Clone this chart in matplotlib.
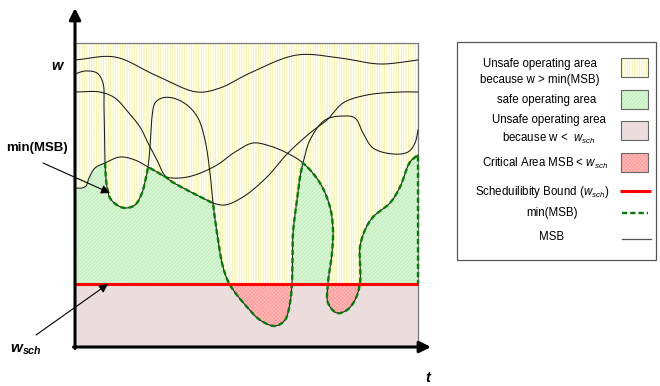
import numpy as np
import matplotlib
matplotlib.use("Agg")
import matplotlib.pyplot as plt
from matplotlib.patches import Polygon, Rectangle

plt.rcParams.update({
    "font.family": ["Liberation Sans", "DejaVu Sans"],
    "mathtext.fontset": "custom",
    "mathtext.rm": "Liberation Sans",
    "mathtext.it": "Liberation Sans:italic",
    "mathtext.bf": "Liberation Sans:bold:italic",
    "hatch.linewidth": 0.5,
})

# ---- operating-space model (t: time, w: workload, arbitrary units) ----
T_MAX, W_MAX = 343, 304
W_SCH = 63                       # schedulability bound

# four MSB trajectories (knot points)
msb_a_t = [0, 40, 80, 122, 145, 175, 222, 265, 305, 343]
msb_a_w = [287, 290, 272, 255, 259, 274, 292, 289, 283, 287]

msb_b_t = [0, 10, 22, 28, 29, 29.5, 30, 32, 35, 42, 50, 60, 67, 70, 73, 75, 77, 80, 87, 98,
           112, 123, 130, 135, 138, 142, 148, 155, 172, 185, 200, 210, 215, 217, 218, 222,
           225, 228, 235, 250, 268, 280, 288, 298, 318, 333, 340, 343]
msb_b_w = [273, 276, 274, 264, 240, 212, 184, 160, 149, 142, 139, 142, 154, 165, 180, 200,
           230, 244, 249, 249, 242, 229, 207, 174, 144, 114, 80, 62, 40, 27, 21, 27, 44, 64,
           114, 147, 170, 184, 207, 227, 231, 229, 214, 199, 193, 195, 204, 217]

msb_c_t = [0, 25, 40, 53, 65, 73, 82, 91, 112, 128, 138, 150, 168, 192, 212, 235, 252, 268,
           292, 325, 343]
msb_c_w = [255, 255, 249, 235, 220, 204, 187, 170, 157, 149, 144, 142, 150, 170, 193, 214,
           227, 244, 252, 255, 255]

msb_e_t = [0, 7, 11, 14, 20, 30, 45, 60, 73, 82, 91, 105, 120, 142, 160, 178, 195, 212, 228,
           245, 255, 258, 257, 253, 253, 262, 272, 280, 285, 285, 290, 298, 315, 325, 335, 343]
msb_e_w = [159, 159, 161, 169, 179, 184, 190, 187, 180, 175, 170, 169, 172, 182, 195, 204,
           201, 194, 184, 164, 140, 117, 94, 64, 44, 34, 37, 47, 64, 100, 117, 130, 144, 160,
           185, 192]

# crossings where the lower envelope switches trajectory
cross_1 = (30, 184)
cross_2 = (73, 180)
cross_3 = (91, 170)
cross_4 = (138, 144)
cross_5 = (228, 184)

legend_labels = [
    "Unsafe operating area\nbecause w > min(MSB)",
    "safe operating area",
    "Unsafe operating area\nbecause w <  $w_{sch}$",
    "Critical Area MSB < $w_{sch}$",
    "Scheduilibity Bound ($w_{sch}$)",
    "min(MSB)",
    "MSB",
]

# ---- colours ----
YELLOW_BG, YELLOW_HATCH = "#fffff0", "#f1eca0"
GREEN_BG, GREEN_HATCH = "#d8f7d4", "#b6e8b1"
PINK_BG = "#ebdddd"
RED_BG, RED_HATCH = "#ffbcbc", "#ff9a9a"
DASH_GREEN = "#087a08"

N_SUB = 24


def spline(ts, ws, n=N_SUB):
    """Centripetal Catmull-Rom curve through the knots."""
    P = np.column_stack([ts, ws]).astype(float)
    Q = np.vstack([2 * P[0] - P[1], P, 2 * P[-1] - P[-2]])
    out = []
    for i in range(1, len(Q) - 2):
        p0, p1, p2, p3 = Q[i - 1], Q[i], Q[i + 1], Q[i + 2]
        d01 = max(np.hypot(*(p1 - p0)), 1e-6) ** 0.5
        d12 = max(np.hypot(*(p2 - p1)), 1e-6) ** 0.5
        d23 = max(np.hypot(*(p3 - p2)), 1e-6) ** 0.5
        t0, t1 = 0.0, d01
        t2 = t1 + d12
        t3 = t2 + d23
        u = np.linspace(t1, t2, n, endpoint=False)[:, None]
        a1 = (t1 - u) / (t1 - t0) * p0 + (u - t0) / (t1 - t0) * p1
        a2 = (t2 - u) / (t2 - t1) * p1 + (u - t1) / (t2 - t1) * p2
        a3 = (t3 - u) / (t3 - t2) * p2 + (u - t2) / (t3 - t2) * p3
        b1 = (t2 - u) / (t2 - t0) * a1 + (u - t0) / (t2 - t0) * a2
        b2 = (t3 - u) / (t3 - t1) * a2 + (u - t1) / (t3 - t1) * a3
        out.append((t2 - u) / (t2 - t1) * b1 + (u - t1) / (t2 - t1) * b2)
    out.append(P[-1:])
    return np.vstack(out)


def knot(ts, ws, pt):
    return next(i for i, (a, b) in enumerate(zip(ts, ws)) if (a, b) == pt) * N_SUB


curves = {
    "a": (msb_a_t, msb_a_w),
    "b": (msb_b_t, msb_b_w),
    "c": (msb_c_t, msb_c_w),
    "e": (msb_e_t, msb_e_w),
}
dense = {k: spline(*v) for k, v in curves.items()}


def piece(key, p, q=None):
    ts, ws = curves[key]
    i = knot(ts, ws, p)
    j = len(dense[key]) - 1 if q is None else knot(ts, ws, q)
    return dense[key][i:j + 1]


min_path = np.vstack([
    piece("b", cross_1, cross_2),
    piece("e", cross_2, cross_3),
    piece("c", cross_3, cross_4),
    piece("b", cross_4, cross_5),
    piece("e", cross_5),
])
min_line = np.vstack([min_path, [[T_MAX, W_SCH]]])

under_min = np.vstack([
    [[0, 0], [0, msb_e_w[0]]],
    dense["e"][:knot(msb_e_t, msb_e_w, cross_1)],
    min_path,
    [[T_MAX, 0]],
])

# ---- figure ----
fig = plt.figure(figsize=(6.6, 3.86), dpi=100)
ax = fig.add_axes([0, 0, 1, 1])
ax.set_xlim(-75, 585)
ax.set_ylim(-39, 347)
ax.axis("off")

ax.add_patch(Rectangle((0, 0), T_MAX, W_MAX, facecolor=YELLOW_BG, edgecolor=YELLOW_HATCH,
                       hatch="|" * 7, lw=0, zorder=1))

upper = Rectangle((0, W_SCH), T_MAX, W_MAX - W_SCH, transform=ax.transData)
lower = Rectangle((0, 0), T_MAX, W_SCH, transform=ax.transData)

safe = Polygon(under_min, closed=True, facecolor=GREEN_BG, edgecolor=GREEN_HATCH,
               hatch="/" * 9, lw=0, zorder=2)
ax.add_patch(safe)
safe.set_clip_path(upper)

ax.add_patch(Rectangle((0, 0), T_MAX, W_SCH, facecolor=RED_BG, edgecolor=RED_HATCH,
                       hatch="x" * 9, lw=0, zorder=3))
below = Polygon(under_min, closed=True, facecolor=PINK_BG, lw=0, zorder=4)
ax.add_patch(below)
below.set_clip_path(lower)

# box outline (top / right)
ax.plot([0, T_MAX, T_MAX], [W_MAX, W_MAX, 0], color="#7a7a7a", lw=0.9, zorder=5)

for key in curves:
    d = dense[key]
    ax.plot(d[:, 0], d[:, 1], color="#1a1a1a", lw=0.75, zorder=6)

ax.plot(min_line[:, 0], min_line[:, 1], color=DASH_GREEN, lw=1.7, dashes=(2.2, 1.3),
        zorder=7)
ax.plot([0, T_MAX], [W_SCH, W_SCH], color="#ff0000", lw=2.2, zorder=8,
        solid_capstyle="butt")

# axes arrows
ax.annotate("", xy=(0, 339), xytext=(0, -1.5),
            arrowprops=dict(arrowstyle="-|>", lw=2.2, color="black", mutation_scale=17,
                            shrinkA=0, shrinkB=0), zorder=9)
ax.annotate("", xy=(356, 0), xytext=(-1.5, 0),
            arrowprops=dict(arrowstyle="-|>", lw=2.2, color="black", mutation_scale=17,
                            shrinkA=0, shrinkB=0), zorder=9)

# annotations
ax.text(-18, 281, "w", fontsize=10.5, fontweight="bold", fontstyle="italic",
        ha="center", va="center")
ax.text(353, -31, "t", fontsize=10.5, fontweight="bold", fontstyle="italic",
        ha="center", va="center")
ax.text(-38, 199, "min(MSB)", fontsize=9.5, fontweight="bold", ha="center", va="center")
ax.text(-65, -3, r"$\mathbf{w}_{\mathbf{sch}}$", fontsize=11, ha="left", va="center")
ax.annotate("", xy=(35, 154), xytext=(-32, 184),
            arrowprops=dict(arrowstyle="-|>", lw=0.8, color="black", mutation_scale=13,
                            shrinkA=0, shrinkB=0), zorder=9)
ax.annotate("", xy=(33, 63), xytext=(-39, 12),
            arrowprops=dict(arrowstyle="-|>", lw=0.8, color="black", mutation_scale=13,
                            shrinkA=0, shrinkB=0), zorder=9)

# ---- legend ----
ax.add_patch(Rectangle((382, 87), 199, 218, facecolor="white", edgecolor="#555555",
                       lw=0.9, zorder=10))

swatches = [
    (270, YELLOW_BG, YELLOW_HATCH, "|" * 7),
    (238, GREEN_BG, GREEN_HATCH, "/" * 9),
    (207, PINK_BG, PINK_BG, None),
    (175, RED_BG, RED_HATCH, "x" * 9),
]
for y0, fc, hc, hatch in swatches:
    ax.add_patch(Rectangle((546, y0), 27, 19, facecolor=fc, edgecolor=hc, hatch=hatch,
                           lw=0, zorder=11))
    ax.add_patch(Rectangle((546, y0), 27, 19, facecolor="none", edgecolor="#666666",
                           lw=0.8, zorder=12))
ax.plot([545, 576], [156, 156], color="#ff0000", lw=2.2, zorder=12, solid_capstyle="butt")
ax.plot([547, 573], [134, 134], color=DASH_GREEN, lw=1.7, dashes=(2.2, 1.3), zorder=12)
ax.plot([547, 576], [108, 108], color="#555555", lw=0.9, zorder=12)

label_pos = [(465, 275), (472, 247), (474, 217), (470, 184), (467, 155), (477, 134),
             (477, 110)]
for (x, y), lab in zip(label_pos, legend_labels):
    ax.text(x, y, lab, fontsize=8.3, ha="center", va="center", linespacing=1.45,
            zorder=12)

fig.savefig("out.png", dpi=100)
